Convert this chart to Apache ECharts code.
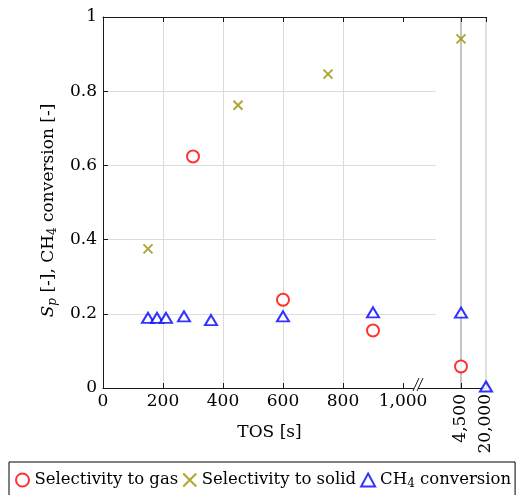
<!DOCTYPE html>
<html><head><meta charset="utf-8">
<script src="https://cdn.jsdelivr.net/npm/echarts@6/dist/echarts.min.js"></script>
<style>html,body{margin:0;padding:0;background:#fff}#c{width:519px;height:495px}</style>
</head><body><div id="c"></div>
<script>
// ---- data ----
const mainTOSTicks = [0, 200, 400, 600, 800, 1000];
const longTOSLabels = ['', '4,500', '20,000'];
const seriesNames = ['Selectivity to gas', 'Selectivity to solid', 'CH4 conversion'];

const gasTOS = [300, 600, 900];
const gasSel = [0.624, 0.238, 0.155];
const gasTOSLong = ['4,500'];
const gasSelLong = [0.058];

const solidTOS = [150, 450, 750];
const solidSel = [0.375, 0.762, 0.846];
const solidTOSLong = ['4,500'];
const solidSelLong = [0.941];

const ch4TOS = [150, 180, 210, 270, 360, 600, 900];
const ch4Conv = [0.189, 0.189, 0.189, 0.193, 0.183, 0.193, 0.204];
const ch4TOSLong = ['4,500', '20,000'];
const ch4ConvLong = [0.203, 0.004];

// ---- styles ----
const FONT = 'DejaVu Serif';
const FS = 17;
const LFS = 16.5;
const AXIS = '#1a1a1a';
const GRID = '#dcdcdc';
const zip = (a, b) => a.map((v, i) => [v, b[i]]);

const gasStyle = {symbol: 'circle', symbolSize: 12, itemStyle: {color: '#fff', borderColor: '#ff0000', borderWidth: 2}};
const solidStyle = {symbol: 'path://M0,0L10,10M10,0L0,10', symbolSize: 9, itemStyle: {color: 'rgba(0,0,0,0)', borderColor: '#9a9200', borderWidth: 2}};
const ch4Style = {symbol: 'triangle', symbolSize: [12, 10], itemStyle: {color: '#fff', borderColor: '#0000ff', borderWidth: 2}};

const chart = echarts.init(document.getElementById('c'), null, {renderer: 'canvas'});
const mainMax = 1110;

const option = {
  animation: false,
  backgroundColor: '#fff',
  textStyle: {fontFamily: FONT},
  grid: [
    {left: 103, top: 17, width: 333, height: 371},
    {left: 436, top: 17, width: 50, height: 371}
  ],
  xAxis: [
    {
      gridIndex: 0, type: 'value', min: 0, max: mainMax, interval: 200,
      axisLine: {show: true, lineStyle: {color: AXIS, width: 1}},
      axisTick: {show: true, inside: true, length: 5, lineStyle: {color: AXIS}, customValues: mainTOSTicks},
      axisLabel: {customValues: mainTOSTicks, margin: 5, color: '#000', fontFamily: FONT, fontSize: FS,
        formatter: v => (v > 1000 ? '' : Number(v).toLocaleString('en-US'))},
      splitLine: {show: true, showMinLine: false, showMaxLine: false, lineStyle: {color: GRID, width: 1}},
      name: 'TOS [s]', nameLocation: 'middle', nameGap: 36,
      nameTextStyle: {color: '#000', fontFamily: FONT, fontSize: FS}
    },
    {
      gridIndex: 0, type: 'value', position: 'top', min: 0, max: mainMax, interval: 200,
      axisLine: {show: true, lineStyle: {color: AXIS, width: 1}},
      axisTick: {show: true, inside: true, length: 5, lineStyle: {color: AXIS}, customValues: mainTOSTicks},
      axisLabel: {show: false}, splitLine: {show: false}
    },
    {
      gridIndex: 1, type: 'category', data: longTOSLabels, boundaryGap: false,
      axisLine: {show: true, lineStyle: {color: AXIS, width: 1}},
      axisTick: {show: true, inside: true, length: 5, lineStyle: {color: AXIS}, interval: (i, v) => v !== ''},
      axisLabel: {rotate: 90, margin: 6, color: '#000', fontFamily: FONT, fontSize: FS, interval: (i, v) => v !== ''},
      splitLine: {show: true, interval: (i, v) => v !== '', lineStyle: {color: ['#b0b0b0', '#d6d6d6'], width: 1.5}}
    },
    {
      gridIndex: 1, type: 'category', data: longTOSLabels, boundaryGap: false, position: 'top',
      axisLine: {show: true, lineStyle: {color: AXIS, width: 1}},
      axisTick: {show: true, inside: true, length: 5, lineStyle: {color: AXIS}, interval: (i, v) => v !== ''},
      axisLabel: {show: false}, splitLine: {show: false}
    }
  ],
  yAxis: [
    {
      gridIndex: 0, type: 'value', min: 0, max: 1, interval: 0.2,
      axisLine: {show: true, lineStyle: {color: AXIS, width: 1}},
      axisTick: {show: true, inside: true, length: 5, lineStyle: {color: AXIS}},
      axisLabel: {margin: 6, color: '#000', fontFamily: FONT, fontSize: FS},
      splitLine: {show: true, showMinLine: false, showMaxLine: false, lineStyle: {color: GRID, width: 1}},
      name: '{it|S}{itsub|p} [-], CH{sub|4} conversion [-]',
      nameLocation: 'middle', nameRotate: 90, nameGap: 42,
      nameTextStyle: {color: '#000', fontFamily: FONT, fontSize: FS, lineHeight: 20, padding: [0, 16, 0, 0],
        rich: {
          it: {fontFamily: FONT, fontStyle: 'italic', fontSize: FS, lineHeight: 20, color: '#000'},
          itsub: {fontFamily: FONT, fontStyle: 'italic', fontSize: 12, lineHeight: 12, verticalAlign: 'bottom', color: '#000'},
          sub: {fontFamily: FONT, fontSize: 12, lineHeight: 12, verticalAlign: 'bottom', color: '#000'}
        }}
    },
    {gridIndex: 1, type: 'value', min: 0, max: 1, show: false, splitLine: {show: false}}
  ],
  legend: {
    data: seriesNames, selectedMode: false,
    left: 9, top: 462, width: 530, padding: [8, 4, 20, 6],
    borderColor: '#000', borderWidth: 1,
    itemGap: 4, itemWidth: 14, itemHeight: 13,
    formatter: n => (n === 'CH4 conversion' ? 'CH{sub|4} conversion' : n),
    textStyle: {color: '#000', fontFamily: FONT, fontSize: LFS, lineHeight: 20,
      rich: {sub: {fontFamily: FONT, fontSize: 12, lineHeight: 12, verticalAlign: 'bottom', color: '#000'}}}
  },
  series: [
    Object.assign({type: 'scatter', name: seriesNames[0], xAxisIndex: 0, yAxisIndex: 0, data: zip(gasTOS, gasSel)}, gasStyle),
    Object.assign({type: 'scatter', name: seriesNames[1], xAxisIndex: 0, yAxisIndex: 0, data: zip(solidTOS, solidSel)}, solidStyle),
    Object.assign({type: 'scatter', name: seriesNames[2], xAxisIndex: 0, yAxisIndex: 0, data: zip(ch4TOS, ch4Conv)}, ch4Style),
    Object.assign({type: 'scatter', name: seriesNames[0], xAxisIndex: 2, yAxisIndex: 1, clip: false, data: zip(gasTOSLong, gasSelLong)}, gasStyle),
    Object.assign({type: 'scatter', name: seriesNames[1], xAxisIndex: 2, yAxisIndex: 1, clip: false, data: zip(solidTOSLong, solidSelLong)}, solidStyle),
    Object.assign({type: 'scatter', name: seriesNames[2], xAxisIndex: 2, yAxisIndex: 1, clip: false, data: zip(ch4TOSLong, ch4ConvLong)}, ch4Style)
  ]
};
chart.setOption(option);

// axis break mark "//" at TOS = 1050 on the main axis
const bp = chart.convertToPixel({xAxisIndex: 0, yAxisIndex: 0}, [1050, 0]);
if (bp) {
  const bx = bp[0], by = bp[1];
  chart.setOption({graphic: [
    {type: 'polygon', z: 100, shape: {points: [[bx - 5, by + 3], [bx + 1, by - 10], [bx + 5, by - 10], [bx - 1, by + 3]]}, style: {fill: '#fff'}},
    {type: 'line', z: 101, shape: {x1: bx - 5, y1: by + 3, x2: bx + 1, y2: by - 10}, style: {stroke: AXIS, lineWidth: 1}},
    {type: 'line', z: 101, shape: {x1: bx - 1, y1: by + 3, x2: bx + 5, y2: by - 10}, style: {stroke: AXIS, lineWidth: 1}}
  ]});
}
</script></body></html>
